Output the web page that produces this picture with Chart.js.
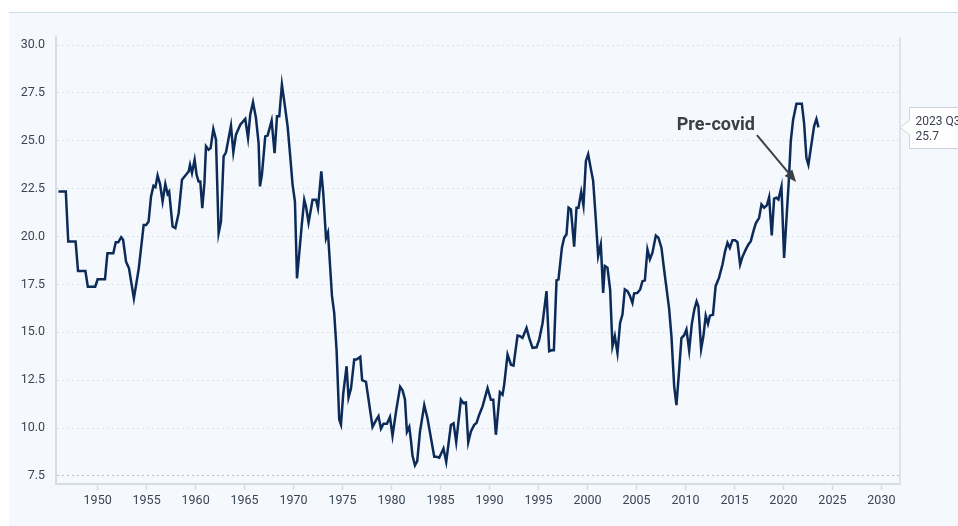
<!DOCTYPE html>
<html>
<head>
<meta charset="utf-8">
<script src="https://cdn.jsdelivr.net/npm/chart.js@4.4.1/dist/chart.umd.min.js"></script>
<style>
  html, body { margin: 0; padding: 0; background: #ffffff; width: 958px; height: 526px; overflow: hidden; }
  #panel {
    position: absolute; left: 9px; top: 12px; width: 949px; height: 514px;
    background: #f5f9fd; border-top: 1px solid #c8dbe7; box-sizing: border-box;
  }
  #wrap { position: absolute; left: 9px; top: 12px; width: 949px; height: 514px; }
</style>
</head>
<body>
<div id="panel"></div>
<div id="wrap"><canvas id="chart" width="949" height="514"></canvas></div>
<script>
// quarterly series (decimal year, value)
const years = [
  1946.0, 1946.75, 1947.0, 1947.75, 1948.0, 1948.75, 1949.0, 1949.75, 1950.0, 1950.75,
  1951.0, 1951.6, 1951.85, 1952.1, 1952.4, 1952.6, 1952.9, 1953.2, 1953.7, 1954.2,
  1954.7, 1954.95, 1955.2, 1955.45, 1955.7, 1955.9, 1956.12, 1956.37, 1956.63, 1956.91,
  1957.14, 1957.3, 1957.65, 1957.93, 1958.27, 1958.61, 1959.02, 1959.29, 1959.43, 1959.63,
  1959.9, 1960.1, 1960.3, 1960.48, 1960.68, 1960.9, 1961.06, 1961.33, 1961.53, 1961.81,
  1962.08, 1962.35, 1962.59, 1962.86, 1963.1, 1963.61, 1963.85, 1964.12, 1964.56, 1965.07,
  1965.35, 1965.58, 1965.86, 1966.16, 1966.43, 1966.57, 1966.77, 1967.11, 1967.35, 1967.76,
  1968.06, 1968.31, 1968.54, 1968.81, 1969.05, 1969.39, 1969.63, 1969.9, 1970.14, 1970.35,
  1970.58, 1970.82, 1971.09, 1971.27, 1971.53, 1971.94, 1972.29, 1972.49, 1972.83, 1973.03,
  1973.31, 1973.51, 1973.92, 1974.15, 1974.39, 1974.66, 1974.84, 1975.07, 1975.41, 1975.61,
  1975.86, 1976.19, 1976.43, 1976.81, 1977.0, 1977.39, 1978.06, 1978.41, 1978.67, 1978.92,
  1979.18, 1979.53, 1979.84, 1980.1, 1980.5, 1980.88, 1981.12, 1981.37, 1981.57, 1981.81,
  1981.98, 1982.14, 1982.39, 1982.62, 1982.9, 1983.34, 1983.67, 1984.36, 1984.6, 1984.87,
  1985.3, 1985.58, 1986.06, 1986.33, 1986.6, 1987.08, 1987.32, 1987.59, 1987.83, 1988.1,
  1988.44, 1988.67, 1988.95, 1989.29, 1989.8, 1990.14, 1990.38, 1990.65, 1991.06, 1991.33,
  1991.5, 1991.84, 1992.19, 1992.45, 1992.86, 1993.1, 1993.37, 1993.78, 1994.05, 1994.39,
  1994.8, 1995.07, 1995.41, 1995.82, 1996.09, 1996.33, 1996.57, 1996.84, 1997.04, 1997.39,
  1997.62, 1997.86, 1998.07, 1998.31, 1998.64, 1998.88, 1999.08, 1999.36, 1999.59, 1999.84,
  2000.07, 2000.35, 2000.58, 2000.85, 2001.09, 2001.36, 2001.6, 2001.77, 2002.04, 2002.31,
  2002.55, 2002.79, 2003.06, 2003.33, 2003.57, 2003.81, 2004.08, 2004.32, 2004.59, 2004.76,
  2005.1, 2005.38, 2005.61, 2005.86, 2006.12, 2006.37, 2006.63, 2006.98, 2007.24, 2007.55,
  2007.82, 2008.33, 2008.57, 2008.85, 2009.08, 2009.36, 2009.59, 2009.87, 2010.1, 2010.38,
  2010.64, 2010.91, 2011.14, 2011.32, 2011.6, 2011.83, 2012.07, 2012.3, 2012.5, 2012.81,
  2013.08, 2013.42, 2013.78, 2014.05, 2014.29, 2014.53, 2014.8, 2015.07, 2015.31, 2015.58,
  2015.82, 2016.16, 2016.43, 2016.67, 2016.94, 2017.18, 2017.52, 2017.76, 2018.03, 2018.31,
  2018.54, 2018.81, 2019.05, 2019.28, 2019.49, 2019.8, 2020.07, 2020.35, 2020.55, 2020.75,
  2020.99, 2021.33, 2021.88, 2022.11, 2022.35, 2022.55, 2022.8, 2023.13, 2023.37, 2023.58
];
const values = [
  22.35, 22.35, 19.74, 19.74, 18.2, 18.2, 17.38, 17.38, 17.77, 17.77,
  19.13, 19.13, 19.7, 19.7, 19.96, 19.83, 18.69, 18.34, 16.77, 18.34,
  20.61, 20.61, 20.78, 22.1, 22.65, 22.58, 23.19, 22.74, 21.83, 22.74,
  22.23, 22.35, 20.52, 20.44, 21.22, 22.97, 23.23, 23.4, 23.75, 23.31,
  24.01, 23.23, 22.88, 22.88, 21.48, 22.79, 24.71, 24.53, 24.62, 25.62,
  25.06, 20.17, 20.78, 24.19, 24.4, 25.79, 24.4, 25.32, 25.84, 26.14,
  25.15, 26.37, 27.01, 26.19, 24.88, 22.62, 23.23, 25.23, 25.27, 26.05,
  24.36, 26.28, 26.28, 27.94, 27.06, 25.76, 24.36, 22.7, 21.83, 17.82,
  19.13, 20.52, 21.92, 21.57, 20.73, 21.92, 21.92, 21.48, 23.4, 22.27,
  19.91, 20.21, 16.9, 16.0, 14.07, 10.45, 10.18, 11.8, 13.23, 11.59,
  12.06, 13.58, 13.58, 13.72, 12.5, 12.41, 10.06, 10.4, 10.62, 9.97,
  10.23, 10.23, 10.58, 9.6, 11.0, 12.16, 11.98, 11.5, 9.8, 10.06,
  9.36, 8.55, 8.06, 8.28, 9.8, 11.2, 10.5, 8.5, 8.5, 8.45,
  8.93, 8.23, 10.16, 10.25, 9.27, 11.48, 11.31, 11.34, 9.25, 9.82,
  10.17, 10.26, 10.7, 11.13, 12.09, 11.48, 11.48, 9.65, 11.87, 11.74,
  12.27, 13.84, 13.31, 13.26, 14.83, 14.8, 14.71, 15.23, 14.71, 14.19,
  14.22, 14.62, 15.46, 17.15, 14.01, 14.06, 14.06, 17.71, 17.76, 19.42,
  19.94, 20.12, 21.51, 21.42, 19.47, 21.51, 21.51, 22.33, 21.63, 23.95,
  24.3, 23.52, 22.91, 20.9, 18.98, 19.59, 17.06, 18.46, 18.37, 17.24,
  14.27, 14.8, 13.92, 15.49, 15.93, 17.24, 17.15, 16.92, 16.54, 17.03,
  17.06, 17.24, 17.67, 17.71, 19.33, 18.81, 19.16, 20.05, 19.94, 19.42,
  18.28, 16.25, 14.8, 12.18, 11.2, 13.05, 14.7, 14.85, 15.15, 14.05,
  15.4, 16.2, 16.62, 16.36, 14.13, 14.79, 15.87, 15.45, 15.87, 15.92,
  17.41, 17.84, 18.54, 19.24, 19.67, 19.41, 19.81, 19.81, 19.71, 18.54,
  18.94, 19.33, 19.59, 19.76, 20.28, 20.69, 20.98, 21.68, 21.51, 21.63,
  22.06, 20.06, 21.98, 22.03, 21.94, 22.6, 18.88, 21.24, 22.9, 24.97,
  26.1, 26.94, 26.94, 25.93, 24.1, 23.75, 24.62, 25.76, 26.14, 25.7
];
const xTicks = [1950, 1955, 1960, 1965, 1970, 1975, 1980, 1985, 1990, 1995, 2000, 2005, 2010, 2015, 2020, 2025, 2030];
const yTicks = [7.5, 10.0, 12.5, 15.0, 17.5, 20.0, 22.5, 25.0, 27.5, 30.0];
const lastLabel = '2023 Q3';
const noteText = 'Pre-covid';

const tickFont = { family: "'Liberation Sans Narrow', Roboto, sans-serif", size: 12.5 };
const colors = {
  line: '#0c2b58',
  tick: '#3a4556',
  grid: '#dde3ea',
  base: '#b9c0c9',
  axis: '#d6dce3',
  note: '#3b4047'
};

// right frame line, last-value flag and the "Pre-covid" arrow
const extras = {
  id: 'extras',
  afterDraw(chart) {
    const { ctx, chartArea: a, scales: { x, y } } = chart;
    ctx.save();
    ctx.strokeStyle = colors.axis;
    ctx.lineWidth = 1.5;
    ctx.beginPath();
    ctx.moveTo(a.right, a.top);
    ctx.lineTo(a.right, a.bottom);
    ctx.stroke();

    // last value flag
    const last = values[values.length - 1];
    const py = Math.round(y.getPixelForValue(last)) + 0.5;
    const bx = a.right + 9.5;
    ctx.beginPath();
    ctx.moveTo(a.right, py);
    ctx.lineTo(bx, py - 7);
    ctx.lineTo(bx, py - 20);
    ctx.lineTo(bx + 80, py - 20);
    ctx.lineTo(bx + 80, py + 21);
    ctx.lineTo(bx, py + 21);
    ctx.lineTo(bx, py + 7);
    ctx.closePath();
    ctx.fillStyle = '#ffffff';
    ctx.fill();
    ctx.strokeStyle = '#cfd5dc';
    ctx.lineWidth = 1;
    ctx.stroke();
    ctx.fillStyle = '#3a4350';
    ctx.font = "12px 'Liberation Sans Narrow', Roboto, sans-serif";
    ctx.textBaseline = 'middle';
    ctx.textAlign = 'left';
    ctx.fillText(lastLabel, bx + 6, py - 6);
    ctx.fillText(last.toFixed(1), bx + 6, py + 9);

    // annotation
    ctx.fillStyle = colors.note;
    ctx.font = "bold 18px 'Liberation Sans Narrow', Roboto, sans-serif";
    ctx.fillText(noteText, x.getPixelForValue(2009.1), y.getPixelForValue(25.8));
    const x1 = x.getPixelForValue(2017.3), y1 = y.getPixelForValue(25.3);
    const x2 = x.getPixelForValue(2021.3), y2 = y.getPixelForValue(22.85);
    const ang = Math.atan2(y2 - y1, x2 - x1);
    ctx.strokeStyle = colors.note;
    ctx.lineWidth = 2;
    ctx.beginPath();
    ctx.moveTo(x1, y1);
    ctx.lineTo(x2 - 8 * Math.cos(ang), y2 - 8 * Math.sin(ang));
    ctx.stroke();
    ctx.beginPath();
    ctx.moveTo(x2, y2);
    ctx.lineTo(x2 - 12 * Math.cos(ang) + 5 * Math.sin(ang), y2 - 12 * Math.sin(ang) - 5 * Math.cos(ang));
    ctx.lineTo(x2 - 12 * Math.cos(ang) - 5 * Math.sin(ang), y2 - 12 * Math.sin(ang) + 5 * Math.cos(ang));
    ctx.closePath();
    ctx.fill();
    ctx.restore();
  }
};

new Chart(document.getElementById('chart'), {
  type: 'line',
  data: {
    datasets: [{
      data: years.map((yr, i) => ({ x: yr, y: values[i] })),
      borderColor: colors.line,
      borderWidth: 2.5,
      pointRadius: 0,
      tension: 0,
      fill: false
    }]
  },
  options: {
    responsive: false,
    animation: false,
    devicePixelRatio: 1,
    layout: { padding: { top: 25, right: 58, left: 0, bottom: 0 } },
    plugins: { legend: { display: false }, tooltip: { enabled: false } },
    scales: {
      x: {
        type: 'linear',
        min: 1945.75,
        max: 2031.9,
        afterBuildTicks: s => { s.ticks = xTicks.map(v => ({ value: v })); },
        afterFit: s => { s.height = 42; },
        grid: { drawOnChartArea: false, drawTicks: true, tickLength: 6, tickColor: colors.axis, tickWidth: 1.5 },
        border: { display: true, color: colors.axis, width: 2 },
        ticks: { color: colors.tick, font: tickFont, padding: 3, maxRotation: 0, callback: v => String(v) }
      },
      y: {
        min: 7.08,
        max: 30.42,
        afterBuildTicks: s => { s.ticks = yTicks.map(v => ({ value: v })); },
        afterFit: s => { s.width = 47; },
        grid: {
          drawTicks: false,
          lineWidth: 1,
          color: c => (c.tick && c.tick.value === 7.5 ? colors.base : colors.grid)
        },
        border: { display: true, color: colors.axis, width: 2, dash: [2, 3] },
        ticks: { color: colors.tick, font: tickFont, padding: 11, callback: v => v.toFixed(1) }
      }
    }
  },
  plugins: [extras]
});
</script>
</body>
</html>
